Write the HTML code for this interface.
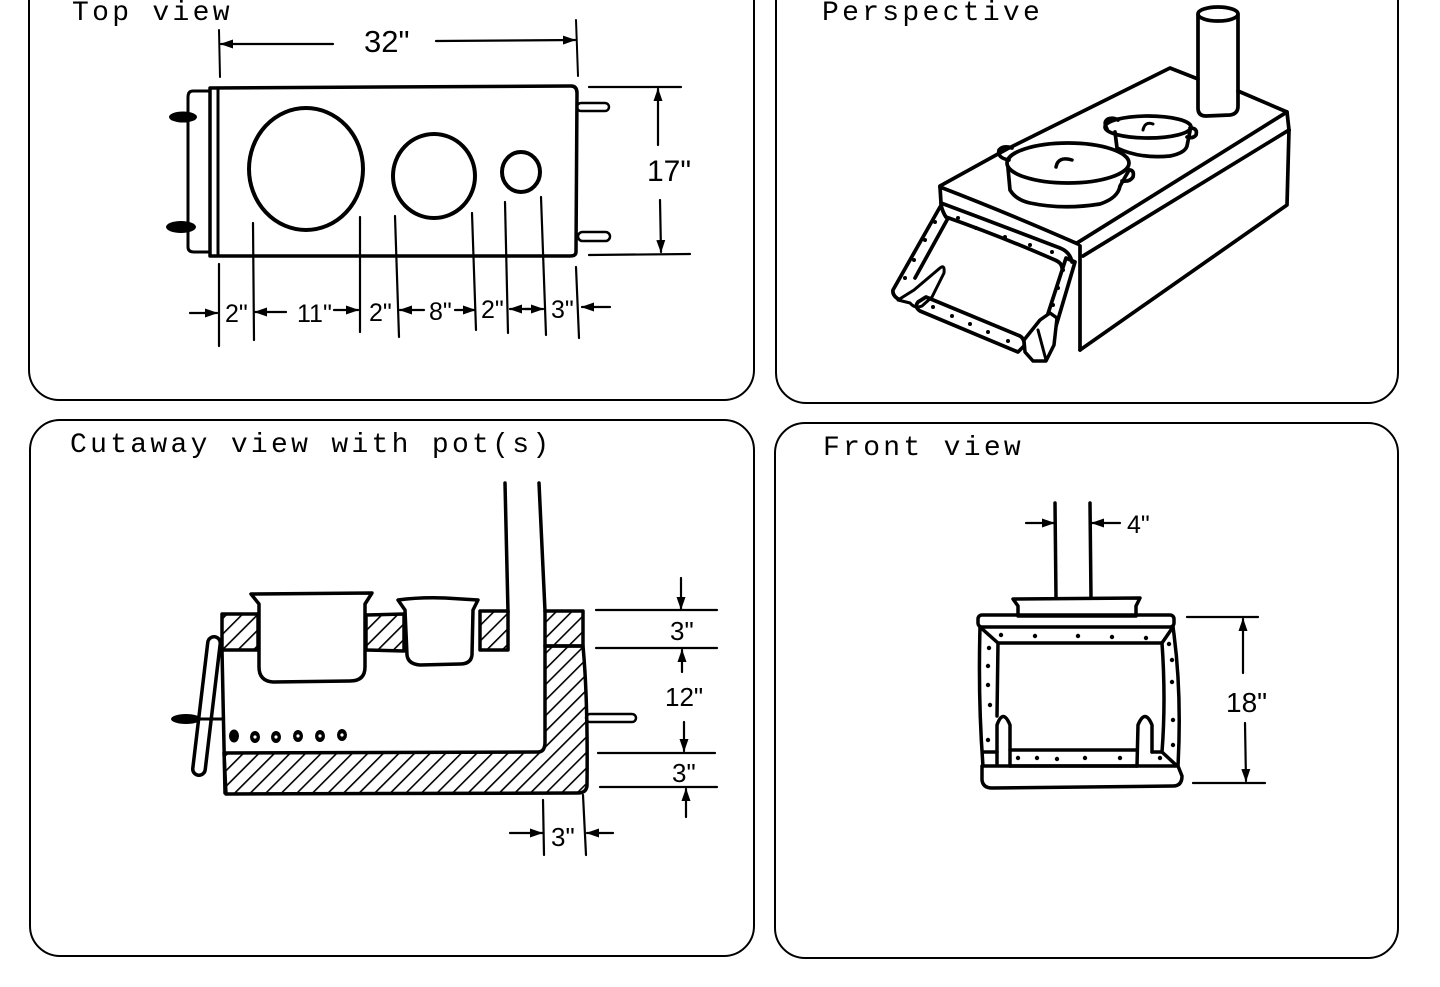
<!DOCTYPE html>
<html><head><meta charset="utf-8"><style>
html,body{margin:0;padding:0;background:#fff;}
svg{display:block;}
.t{font-family:"Liberation Mono",monospace;font-size:28px;letter-spacing:3.3px;fill:#000;}
.d{font-family:"Liberation Sans",sans-serif;fill:#000;}
</style></head><body>
<svg width="1440" height="987" viewBox="0 0 1440 987" xmlns="http://www.w3.org/2000/svg">
<defs>
<marker id="ah" markerUnits="userSpaceOnUse" markerWidth="13" markerHeight="9" refX="12" refY="4.5" orient="auto">
<path d="M0,0 L13,4.5 L0,9 z" fill="#000"/>
</marker>
<pattern id="hat" patternUnits="userSpaceOnUse" width="11" height="11" patternTransform="rotate(45)">
<line x1="0" y1="0" x2="0" y2="11" stroke="#000" stroke-width="3.2"/>
</pattern>
</defs>

<!-- panels -->
<g fill="none" stroke="#000" stroke-width="2">
<rect x="29" y="-30" width="725" height="430" rx="30"/>
<rect x="776" y="-30" width="622" height="433" rx="30"/>
<rect x="30" y="420" width="724" height="536" rx="30"/>
<rect x="775" y="423" width="623" height="535" rx="30"/>
</g>

<text class="t" x="72" y="20">Top view</text>
<text class="t" x="822" y="20">Perspective</text>
<text class="t" x="70" y="452">Cutaway view with pot(s)</text>
<text class="t" x="823" y="455">Front view</text>

<!-- ============ TOP VIEW ============ -->
<g fill="none" stroke="#000" stroke-linecap="round" stroke-linejoin="round">
<path d="M210,88 L571,86 Q577,86 577,93 L576,252 Q576,256 570,256 L210,256 Z" stroke-width="3.5"/>
<line x1="218" y1="89" x2="218" y2="255" stroke-width="3"/>
<path d="M210,91 L193,91 Q188,91 188,97 L188,247 Q188,252 194,252 L210,252" stroke-width="3"/>
<ellipse cx="306" cy="169" rx="57" ry="61" stroke-width="4"/>
<ellipse cx="434" cy="176" rx="41" ry="42" stroke-width="4"/>
<ellipse cx="521" cy="172" rx="19" ry="20" stroke-width="4"/>
<rect x="577" y="103" width="32" height="8" rx="4" stroke-width="2.5"/>
<rect x="578" y="232" width="32" height="9" rx="4.5" stroke-width="2.5"/>
<line x1="219" y1="30" x2="220" y2="77" stroke-width="2"/>
<line x1="576" y1="20" x2="578" y2="76" stroke-width="2"/>
<line x1="333" y1="44" x2="221" y2="44" stroke-width="2.2" marker-end="url(#ah)"/>
<line x1="436" y1="41" x2="575" y2="40" stroke-width="2.2" marker-end="url(#ah)"/>
<line x1="589" y1="87" x2="681" y2="87" stroke-width="2.2"/>
<line x1="589" y1="255" x2="690" y2="254" stroke-width="2.2"/>
<line x1="658" y1="145" x2="658" y2="89" stroke-width="2.2" marker-end="url(#ah)"/>
<line x1="660" y1="200" x2="661" y2="252" stroke-width="2.2" marker-end="url(#ah)"/>
<g stroke-width="2.2">
<line x1="219" y1="264" x2="219" y2="346"/>
<line x1="253" y1="223" x2="254" y2="340"/>
<line x1="360" y1="217" x2="360" y2="332"/>
<line x1="395" y1="216" x2="399" y2="337"/>
<line x1="472" y1="213" x2="476" y2="330"/>
<line x1="505" y1="202" x2="508" y2="333"/>
<line x1="541" y1="197" x2="546" y2="335"/>
<line x1="576" y1="267" x2="579" y2="338"/>
</g>
<g stroke-width="2.2">
<line x1="190" y1="313" x2="217" y2="313" marker-end="url(#ah)"/>
<line x1="286" y1="312" x2="255" y2="312" marker-end="url(#ah)"/>
<line x1="334" y1="310" x2="358" y2="310" marker-end="url(#ah)"/>
<line x1="424" y1="310" x2="400" y2="310" marker-end="url(#ah)"/>
<line x1="455" y1="310" x2="475" y2="310" marker-end="url(#ah)"/>
<line x1="530" y1="309" x2="510" y2="309" marker-end="url(#ah)"/>
<line x1="525" y1="309" x2="543" y2="309" marker-end="url(#ah)"/>
<line x1="610" y1="307" x2="582" y2="307" marker-end="url(#ah)"/>
</g>
</g>
<ellipse cx="183" cy="117" rx="14" ry="5.5" fill="#000"/>
<ellipse cx="181" cy="227" rx="15" ry="6" fill="#000"/>
<text class="d" x="364" y="52" font-size="31">32"</text>
<text class="d" x="647" y="181" font-size="30">17"</text>
<g class="d" font-size="25">
<text x="225" y="322">2"</text>
<text x="297" y="322">11"</text>
<text x="369" y="321">2"</text>
<text x="429" y="320">8"</text>
<text x="481" y="318">2"</text>
<text x="551" y="318">3"</text>
</g>

<!-- ============ PERSPECTIVE ============ -->
<g fill="none" stroke="#000" stroke-width="3.7" stroke-linecap="round" stroke-linejoin="round">
<path d="M940,186 L1007,149 L1170,68 L1198,79"/>
<path d="M1238,91 L1287,112 L1289,130"/>
<path d="M1289,130 L1287,205 L1080,350"/>
<path d="M1287,112 L1077,243"/>
<path d="M1289,130 L1083,256"/>
<line x1="1080" y1="246" x2="1080" y2="350"/>
<path d="M940,187 Q1005,212 1078,244"/>
<path d="M940,187 L941,203"/>
<path d="M941,203 Q1000,225 1060,248 Q1070,252 1072,262"/>
<path d="M946,217 Q1000,236 1055,260 Q1062,263 1062,268"/>
<path d="M941,205 Q943,213 946,217"/>
<path d="M940,207 L893,290 Q892,296 900,300"/>
<path d="M947,220 L915,278"/>
<path d="M898,300 L914,290 L940,268 Q945,264 944,273 L932,297 L922,306 Q915,309 910,303 Z" stroke-width="3"/>
<path d="M926,297 L1020,336 Q1025,339 1024,346 L1018,352 L920,311 Q914,307 918,302 Z"/>
<path d="M1066,258 L1075,262 L1046,360 L1034,357 Z"/>
<path d="M1198,15 L1198,108 Q1198,116 1206,116 L1230,115 Q1238,114 1238,106 L1238,15"/>
<ellipse cx="1218" cy="14" rx="20" ry="7"/>
<!-- big pot -->
<ellipse cx="1068" cy="163" rx="61" ry="20" fill="#fff"/>
<path d="M1008,168 L1010,190 Q1016,200 1030,203 Q1063,210 1100,204 Q1118,198 1120,186 L1128,172"/>
<path d="M1009,160 Q997,158 999,150 Q1003,145 1012,148"/>
<path d="M1127,170 Q1135,169 1133,177 Q1130,182 1122,181"/>
<path d="M1056,167 Q1058,156 1072,160" stroke-width="3.5"/>
<!-- small pot -->
<ellipse cx="1148" cy="127" rx="43" ry="11" fill="#fff"/>
<path d="M1115,132 L1117,148 Q1140,159 1170,156 Q1185,153 1187,146 L1190,131"/>
<path d="M1107,129 Q1103,122 1108,119 Q1113,117 1118,120"/>
<path d="M1190,128 Q1198,128 1196,135 Q1193,139 1187,137"/>
<path d="M1143,130 Q1145,121 1153,124" stroke-width="3"/>
<path d="M1024,340 L1040,320 L1050,313 L1057,318 L1054,345 L1046,361 L1033,361 L1025,352 Z" stroke-width="3.5" fill="#fff"/>
<path d="M1038,330 L1046,360" stroke-width="3"/>
</g>
<g fill="#000">
<circle cx="958" cy="218" r="2"/><circle cx="976" cy="228" r="2"/><circle cx="1005" cy="237" r="2"/><circle cx="1030" cy="245" r="2"/><circle cx="1052" cy="252" r="2"/>
<circle cx="935" cy="222" r="2"/><circle cx="925" cy="240" r="2"/><circle cx="914" cy="260" r="2"/><circle cx="905" cy="278" r="2"/>
<circle cx="933" cy="307" r="2"/><circle cx="952" cy="316" r="2"/><circle cx="970" cy="324" r="2"/><circle cx="988" cy="332" r="2"/><circle cx="1008" cy="341" r="2"/>
<circle cx="1063" cy="270" r="2"/><circle cx="1058" cy="288" r="2"/><circle cx="1053" cy="305" r="2"/>
</g>

<!-- ============ CUTAWAY ============ -->
<g stroke="#000" stroke-width="3.5" stroke-linejoin="round" stroke-linecap="round">
<path d="M222,614 L258,614 L258,650 L222,650 Z" fill="url(#hat)"/>
<path d="M366,615 L404,614 L404,651 L366,650 Z" fill="url(#hat)"/>
<path d="M480,611 L508,611 L508,650 L480,650 Z" fill="url(#hat)"/>
<path d="M545,611 L583,611 L583,646 L545,646 Z" fill="url(#hat)"/>
<path d="M545,646 L583,646 Q588,700 587,786 Q586,793 578,793 L226,794 L224,753 L538,752 Q545,752 545,742 Z" fill="url(#hat)"/>
</g>
<g fill="none" stroke="#000" stroke-width="3.5" stroke-linecap="round" stroke-linejoin="round">
<line x1="222" y1="650" x2="225" y2="793"/>
<path d="M505,483 L508,612"/>
<path d="M539,483 L545,611"/>
<path d="M251,594 L372,593 L365,604 L365,667 Q365,681 350,681 L273,682 Q259,681 259,667 L259,604 Z" fill="#fff"/>
<path d="M398,600 Q420,597 445,598 L478,600 L473,610 L472,655 Q471,664 460,664 L420,665 Q408,664 407,655 L405,610 Z" fill="#fff"/>
<rect x="586" y="714" width="50" height="8" rx="4" stroke-width="2.5"/>
</g>
<line x1="214" y1="643" x2="199" y2="769" stroke="#000" stroke-width="16" stroke-linecap="round"/>
<line x1="214" y1="643" x2="199" y2="769" stroke="#fff" stroke-width="9" stroke-linecap="round"/>
<ellipse cx="186" cy="719" rx="15" ry="5" fill="#000"/>
<line x1="200" y1="719" x2="222" y2="719" stroke="#000" stroke-width="3"/>
<g fill="#000">
<ellipse cx="234" cy="736" rx="5" ry="6.5"/>
<ellipse cx="255" cy="737" rx="5" ry="6"/>
<ellipse cx="276" cy="737" rx="5" ry="6"/>
<ellipse cx="298" cy="736" rx="5" ry="6"/>
<ellipse cx="320" cy="736" rx="5" ry="6"/>
<ellipse cx="342" cy="735" rx="5" ry="6"/>
</g>
<g fill="#fff">
<circle cx="255" cy="737" r="1.6"/><circle cx="276" cy="737" r="1.6"/><circle cx="298" cy="736" r="1.6"/><circle cx="320" cy="736" r="1.6"/><circle cx="342" cy="735" r="1.6"/>
</g>
<g fill="none" stroke="#000" stroke-width="2.2" stroke-linecap="round">
<line x1="681" y1="578" x2="681" y2="609" marker-end="url(#ah)"/>
<line x1="596" y1="610" x2="717" y2="610"/>
<line x1="596" y1="648" x2="717" y2="648"/>
<line x1="682" y1="672" x2="682" y2="650" marker-end="url(#ah)"/>
<line x1="684" y1="722" x2="684" y2="751" marker-end="url(#ah)"/>
<line x1="598" y1="753" x2="715" y2="753"/>
<line x1="600" y1="787" x2="717" y2="787"/>
<line x1="686" y1="817" x2="686" y2="789" marker-end="url(#ah)"/>
<line x1="543" y1="800" x2="544" y2="855"/>
<line x1="583" y1="795" x2="586" y2="855"/>
<line x1="510" y1="833" x2="542" y2="833" marker-end="url(#ah)"/>
<line x1="613" y1="833" x2="587" y2="833" marker-end="url(#ah)"/>
</g>
<g class="d" font-size="26">
<text x="670" y="640">3"</text>
<text x="665" y="706">12"</text>
<text x="672" y="782">3"</text>
<text x="551" y="846">3"</text>
</g>

<!-- ============ FRONT VIEW ============ -->
<g fill="none" stroke="#000" stroke-width="3.5" stroke-linecap="round" stroke-linejoin="round">
<line x1="1055" y1="503" x2="1056" y2="598"/>
<line x1="1090" y1="503" x2="1091" y2="598"/>
<path d="M1013,599 L1140,598 L1136,606 L1136,616 L1018,616 L1018,606 Z"/>
<rect x="978" y="615" width="196" height="12" rx="4"/>
<path d="M980,627 Q978,700 983,766"/>
<path d="M1173,627 Q1182,690 1178,766"/>
<path d="M980,627 L998,643 L1162,643 L1173,627"/>
<path d="M998,643 L997,716"/>
<path d="M1162,643 Q1166,700 1162,752"/>
<path d="M997,765 L997,725 Q1003,708 1010,725 L1010,766"/>
<path d="M1137,766 L1138,725 Q1145,708 1152,725 L1152,752"/>
<path d="M1010,750 L1137,750"/>
<path d="M1010,766 L1137,766"/>
<path d="M983,752 L997,752 M1152,752 L1162,752 L1176,765"/>
<path d="M982,766 L982,780 Q983,788 992,788 L1173,786 Q1182,786 1182,776 L1178,766 Z"/>
</g>
<g fill="#000">
<circle cx="1001" cy="635" r="2.2"/><circle cx="1035" cy="636" r="2.2"/><circle cx="1078" cy="636" r="2.2"/><circle cx="1112" cy="637" r="2.2"/><circle cx="1146" cy="638" r="2.2"/>
<circle cx="989" cy="648" r="2.2"/><circle cx="988" cy="666" r="2.2"/><circle cx="988" cy="685" r="2.2"/><circle cx="990" cy="705" r="2.2"/><circle cx="988" cy="740" r="2.2"/>
<circle cx="1169" cy="644" r="2.2"/><circle cx="1172" cy="660" r="2.2"/><circle cx="1172" cy="682" r="2.2"/><circle cx="1173" cy="720" r="2.2"/><circle cx="1173" cy="745" r="2.2"/>
<circle cx="1018" cy="758" r="2.2"/><circle cx="1037" cy="758" r="2.2"/><circle cx="1057" cy="759" r="2.2"/><circle cx="1085" cy="758" r="2.2"/><circle cx="1120" cy="758" r="2.2"/><circle cx="1160" cy="758" r="2.2"/>
</g>
<g fill="none" stroke="#000" stroke-width="2.2" stroke-linecap="round">
<line x1="1026" y1="523" x2="1054" y2="523" marker-end="url(#ah)"/>
<line x1="1120" y1="523" x2="1092" y2="523" marker-end="url(#ah)"/>
<line x1="1187" y1="617" x2="1258" y2="617"/>
<line x1="1193" y1="783" x2="1265" y2="783"/>
<line x1="1243" y1="673" x2="1243" y2="619" marker-end="url(#ah)"/>
<line x1="1245" y1="723" x2="1246" y2="781" marker-end="url(#ah)"/>
</g>
<text class="d" x="1127" y="533" font-size="25">4"</text>
<text class="d" x="1226" y="712" font-size="28">18"</text>
</svg>
</body></html>
